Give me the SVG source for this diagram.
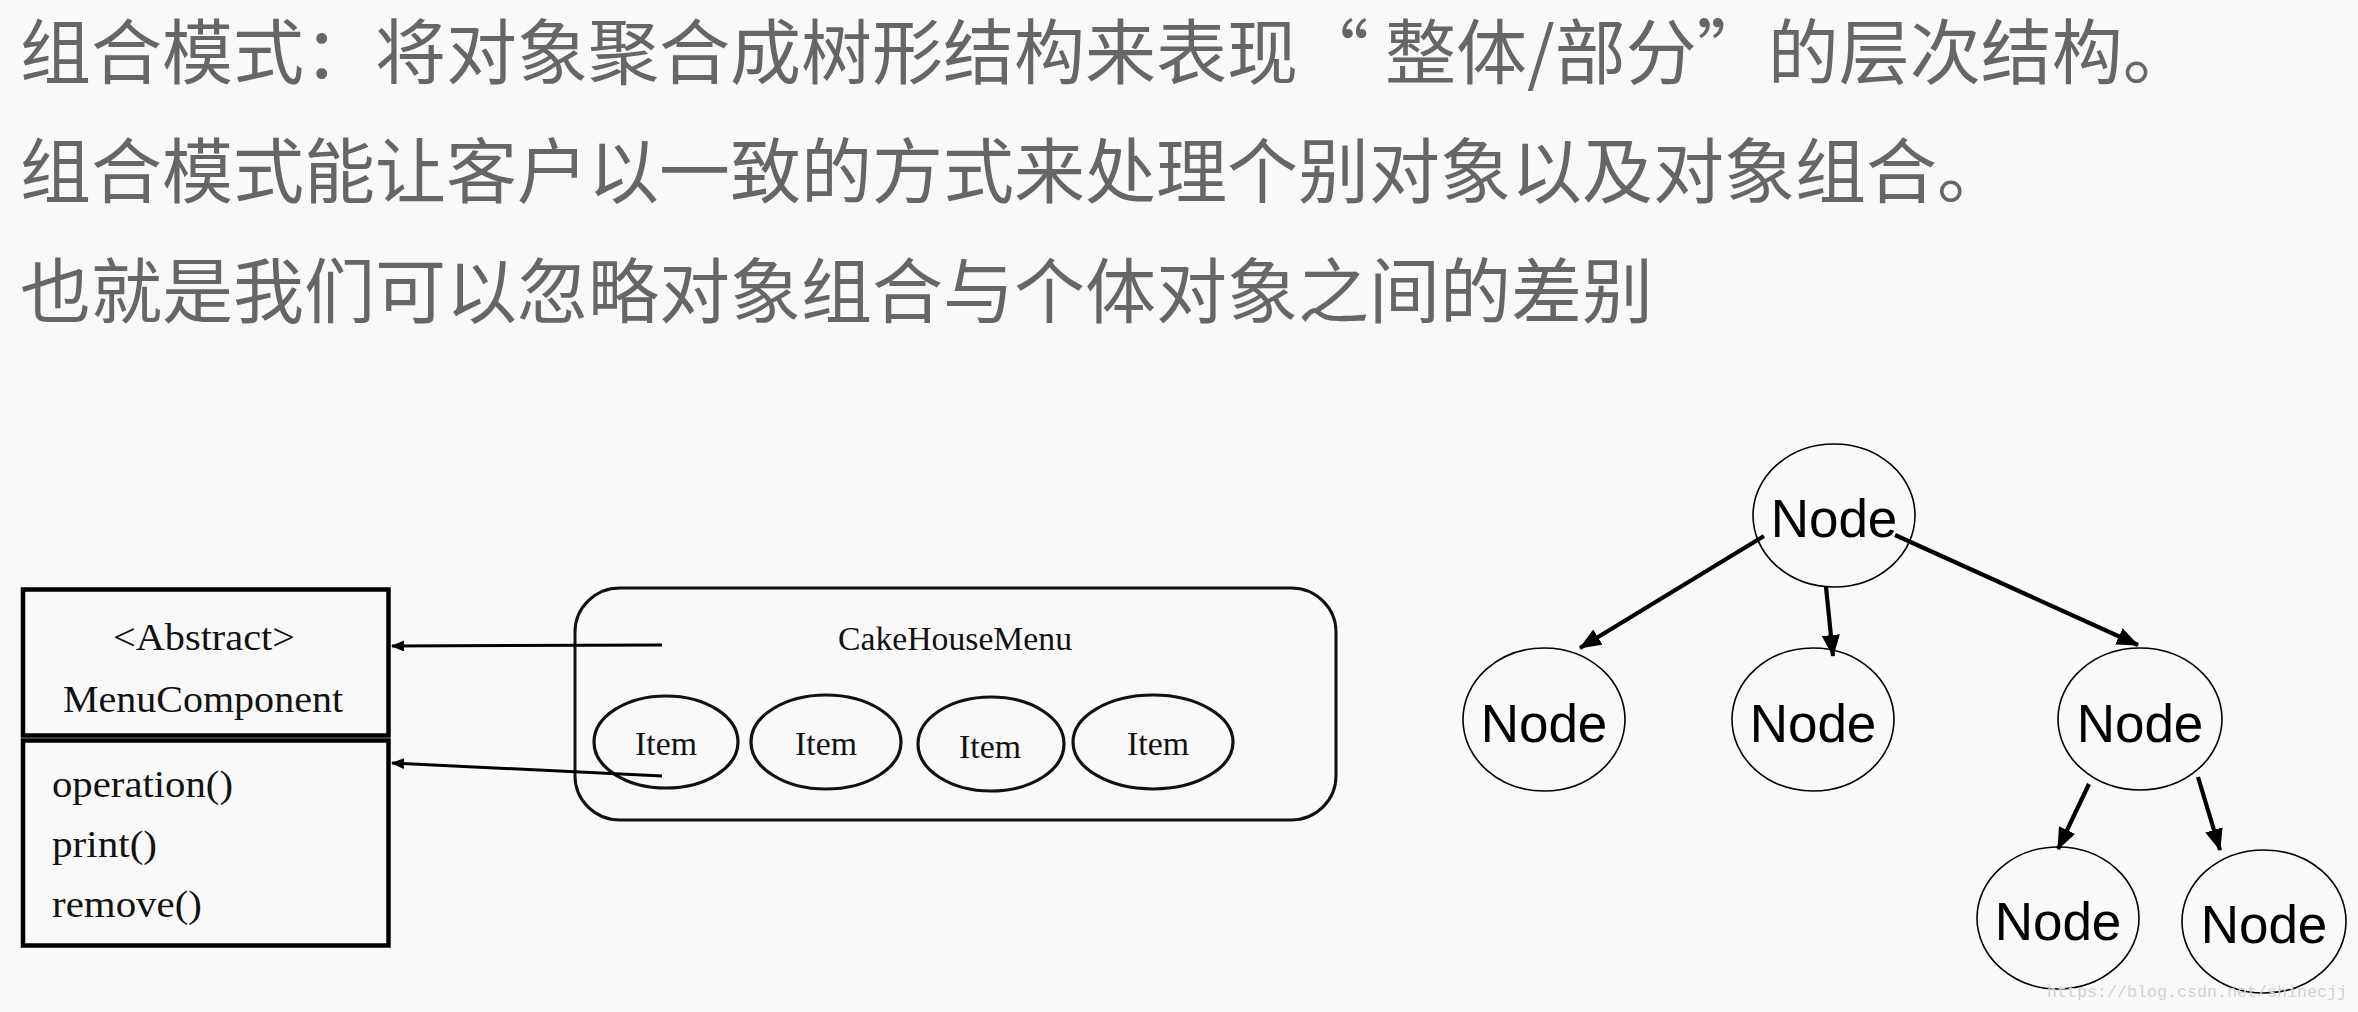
<svg xmlns="http://www.w3.org/2000/svg" width="2358" height="1012" viewBox="0 0 2358 1012">
<defs>
<style>
.title{font-family:"Noto Sans CJK SC","Noto Sans",sans-serif;font-size:71px;fill:#666}
.serif{font-family:"Liberation Serif","Times New Roman",serif;fill:#111}
.box{fill:none;stroke:#000;stroke-width:4.5}
.item{fill:none;stroke:#111;stroke-width:3.2}
.tree ellipse{fill:none;stroke:#000;stroke-width:1.6}
.ntext{font-family:"Liberation Sans",Arial,sans-serif;font-size:53px;fill:#000;text-anchor:middle}
.c1{stroke:#000;stroke-width:3;fill:none}
.c2{stroke:#000;stroke-width:4.2;fill:none}
.wm{font-family:"Liberation Mono","Courier New",monospace;font-size:17px;fill:#d2d2d2}
</style>
<marker id="a1" markerUnits="userSpaceOnUse" markerWidth="13" markerHeight="11" viewBox="0 0 13 11" refX="12" refY="5.5" orient="auto"><path d="M0,0 L13,5.5 L0,11 z" fill="#000"/></marker>
<marker id="a2" markerUnits="userSpaceOnUse" markerWidth="22" markerHeight="18" viewBox="0 0 22 18" refX="21" refY="9" orient="auto"><path d="M0,0 L22,9 L0,18 z" fill="#000"/></marker>
</defs>
<rect x="0" y="0" width="2358" height="1012" fill="#f9f9f9"/>
<g id="title">
<text class="title" x="20" y="78">组合模式：将对象聚合成树形结构来表现“ 整体/部分”的层次结构。</text>
<text class="title" x="20" y="197">组合模式能让客户以一致的方式来处理个别对象以及对象组合。</text>
<text class="title" x="20" y="317">也就是我们可以忽略对象组合与个体对象之间的差别</text>
</g>
<g id="menucomponent">
<rect class="box" x="23" y="589.5" width="365.5" height="146"/>
<rect class="box" x="23" y="740.5" width="365.5" height="205"/>
<text class="serif" x="204" y="650" font-size="38" text-anchor="middle" textLength="182" lengthAdjust="spacingAndGlyphs">&lt;Abstract&gt;</text>
<text class="serif" x="203" y="712" font-size="38" text-anchor="middle" textLength="280" lengthAdjust="spacingAndGlyphs">MenuComponent</text>
<text class="serif" x="52" y="797" font-size="38" textLength="181" lengthAdjust="spacingAndGlyphs">operation()</text>
<text class="serif" x="52" y="857" font-size="38" textLength="105" lengthAdjust="spacingAndGlyphs">print()</text>
<text class="serif" x="52" y="917" font-size="38" textLength="150" lengthAdjust="spacingAndGlyphs">remove()</text>
</g>
<g id="cakehousemenu">
<rect x="575" y="588" width="761" height="232" rx="45" ry="44" fill="none" stroke="#111" stroke-width="3"/>
<text class="serif" x="955" y="650" font-size="34" text-anchor="middle" textLength="234" lengthAdjust="spacingAndGlyphs">CakeHouseMenu</text>
</g>
<g id="item1"><ellipse class="item" cx="666" cy="742" rx="72" ry="46"/><text class="serif" x="666" y="755" font-size="34" text-anchor="middle" textLength="62" lengthAdjust="spacingAndGlyphs">Item</text></g>
<g id="item2"><ellipse class="item" cx="826" cy="742" rx="75" ry="47"/><text class="serif" x="826" y="755" font-size="34" text-anchor="middle" textLength="62" lengthAdjust="spacingAndGlyphs">Item</text></g>
<g id="item3"><ellipse class="item" cx="991" cy="744" rx="73" ry="47"/><text class="serif" x="990" y="758" font-size="34" text-anchor="middle" textLength="62" lengthAdjust="spacingAndGlyphs">Item</text></g>
<g id="item4"><ellipse class="item" cx="1153" cy="742" rx="80" ry="47"/><text class="serif" x="1158" y="755" font-size="34" text-anchor="middle" textLength="62" lengthAdjust="spacingAndGlyphs">Item</text></g>
<g class="tree">
<g id="root"><ellipse cx="1834" cy="515.5" rx="81" ry="71.5"/><text class="ntext" x="1834" y="537">Node</text></g>
<g id="n1"><ellipse cx="1544" cy="719.5" rx="81" ry="71.5"/><text class="ntext" x="1544" y="742">Node</text></g>
<g id="n2"><ellipse cx="1813" cy="719.5" rx="81" ry="71.5"/><text class="ntext" x="1813" y="742">Node</text></g>
<g id="n3"><ellipse cx="2140" cy="719" rx="82" ry="71"/><text class="ntext" x="2140" y="742">Node</text></g>
<g id="n31"><ellipse cx="2058" cy="918" rx="81" ry="71"/><text class="ntext" x="2058" y="940">Node</text></g>
<g id="n32"><ellipse cx="2264" cy="921.5" rx="82" ry="71.5"/><text class="ntext" x="2264" y="943">Node</text></g>
</g>
<g id="connectors">
<line class="c1" x1="662" y1="645" x2="392" y2="646" marker-end="url(#a1)"/>
<line class="c1" x1="662" y1="776" x2="392" y2="763" marker-end="url(#a1)"/>
<line class="c2" x1="1764" y1="536" x2="1580" y2="648" marker-end="url(#a2)"/>
<line class="c2" x1="1826" y1="587" x2="1833" y2="656" marker-end="url(#a2)"/>
<line class="c2" x1="1895" y1="535" x2="2138" y2="645" marker-end="url(#a2)"/>
<line class="c2" x1="2089" y1="784" x2="2058" y2="849" marker-end="url(#a2)"/>
<line class="c2" x1="2198" y1="777" x2="2220" y2="850" marker-end="url(#a2)"/>
</g>
<text class="wm" x="2047" y="997" textLength="300" lengthAdjust="spacingAndGlyphs">https://blog.csdn.net/shinecjj</text>
</svg>
